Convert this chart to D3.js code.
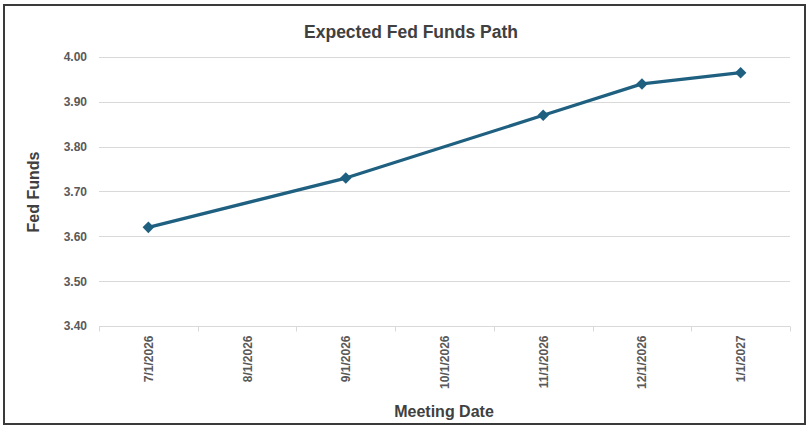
<!DOCTYPE html>
<html>
<head>
<meta charset="utf-8">
<script src="https://cdn.jsdelivr.net/npm/d3@7"></script>
<style>
  body { margin: 0; background: #fff; }
  svg { display: block; }
  .frame { fill: #fff; stroke: #3a3a3a; stroke-width: 2; }
  .grid line { stroke: #d9d9d9; stroke-width: 1; }
  .axis text { fill: #595959; font-family: "Liberation Sans", sans-serif; font-weight: bold; font-size: 12px; }
</style>
</head>
<body>
<svg id="chart" width="810" height="430"></svg>
<script>
// meeting dates on the x axis and the expected rate at each (null = no meeting)
var meetingDates = ["7/1/2026", "8/1/2026", "9/1/2026", "10/1/2026", "11/1/2026", "12/1/2026", "1/1/2027"];
var fedFunds = [3.62, null, 3.73, null, 3.87, 3.94, 3.965];
var yTicks = [3.40, 3.50, 3.60, 3.70, 3.80, 3.90, 4.00];

drawChart();

function drawChart(){
  var svg = d3.select("#chart");

  // outer frame goes first so everything sits on top of it
  svg.append("rect")
  .attr("class", "frame")
  .attr("x", 4).attr("y", 5)
  .attr("width", 801).attr("height", 419);

  var margin = {top: 57, left: 99},
  width = 790 - margin.left,
  height = 326 - margin.top,
  g = svg.append("g").attr("transform", "translate(" + margin.left + "," + margin.top + ")");

  var x = d3.scaleBand()
  .domain(meetingDates)
  .range([0, width]);

  var y = d3.scaleLinear()
  .domain([3.40, 4.00])
  .range([height, 0]);

  var data = meetingDates.map(function(d, i) { return {date: d, value: fedFunds[i]}; })
  .filter(function(d) { return d.value != null; });

  // horizontal gridlines
  g.append("g")
  .attr("class", "grid")
  .selectAll("line")
  .data(yTicks.slice(1))
  .enter().append("line")
  .attr("x1", 0)
  .attr("x2", width)
  .attr("y1", function(d) { return Math.round(y(d)) + 0.5; })
  .attr("y2", function(d) { return Math.round(y(d)) + 0.5; });

  // y axis labels, no axis line
  var yAxis = g.append("g")
  .attr("class", "axis")
  .call(d3.axisLeft(y).tickValues(yTicks).tickFormat(d3.format(".2f")).tickSize(0).tickPadding(12));
  yAxis.select(".domain").remove();

  // x axis: line at the bottom, ticks between categories
  var xAxis = g.append("g")
  .attr("class", "axis")
  .attr("transform", "translate(0," + (height + 0.5) + ")");

  xAxis.append("line")
  .attr("x1", 0).attr("x2", width)
  .attr("stroke", "#d9d9d9");

  xAxis.selectAll(".tickmark")
  .data(meetingDates.concat(["end"]))
  .enter().append("line")
  .attr("class", "tickmark")
  .attr("x1", function(d, i) { return Math.round(i * x.step()) + 0.5; })
  .attr("x2", function(d, i) { return Math.round(i * x.step()) + 0.5; })
  .attr("y1", 0).attr("y2", 5)
  .attr("stroke", "#d9d9d9");

  xAxis.selectAll(".label")
  .data(meetingDates)
  .enter().append("text")
  .attr("class", "label")
  .attr("transform", function(d) { return "translate(" + (x(d) + x.bandwidth() / 2 + 4.5) + ",9) rotate(-90)"; })
  .attr("text-anchor", "end")
  .text(function(d) { return d; });

  // the path
  var line = d3.line()
  .x(function(d) { return x(d.date) + x.bandwidth() / 2; })
  .y(function(d) { return y(d.value); });

  g.append("path")
  .datum(data)
  .attr("fill", "none")
  .attr("stroke", "#1f6080")
  .attr("stroke-width", 3.25)
  .attr("stroke-linejoin", "round")
  .attr("d", line);

  g.append("g")
  .selectAll("path")
  .data(data)
  .enter().append("path")
  .attr("d", d3.symbol().type(d3.symbolDiamond2).size(85))
  .attr("fill", "#1f6080")
  .attr("transform", function(d) { return "translate(" + (x(d.date) + x.bandwidth() / 2) + "," + y(d.value) + ")"; });

  // titles
  svg.append("text")
  .attr("x", 411)
  .attr("y", 38)
  .attr("text-anchor", "middle")
  .attr("font-family", "Liberation Sans, sans-serif")
  .attr("font-weight", "bold")
  .attr("font-size", 17.5)
  .attr("fill", "#404040")
  .text("Expected Fed Funds Path");

  svg.append("text")
  .attr("transform", "translate(39,192) rotate(-90)")
  .attr("text-anchor", "middle")
  .attr("font-family", "Liberation Sans, sans-serif")
  .attr("font-weight", "bold")
  .attr("font-size", 16)
  .attr("fill", "#404040")
  .text("Fed Funds");

  svg.append("text")
  .attr("x", 444)
  .attr("y", 417)
  .attr("text-anchor", "middle")
  .attr("font-family", "Liberation Sans, sans-serif")
  .attr("font-weight", "bold")
  .attr("font-size", 16)
  .attr("fill", "#404040")
  .text("Meeting Date");
}
</script>
</body>
</html>
